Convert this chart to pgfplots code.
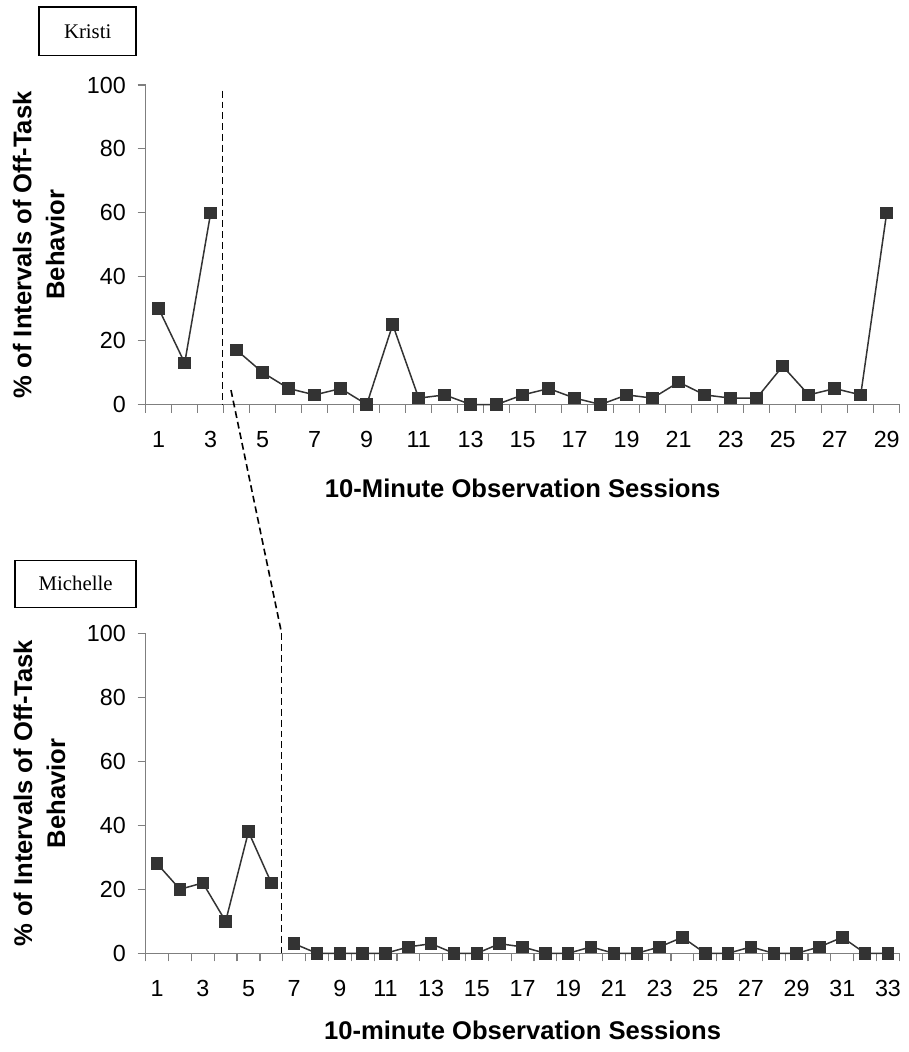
\documentclass[border=0pt]{standalone}
\usepackage{fontspec}
\setmainfont{Liberation Sans}
\newfontfamily\timesf{Liberation Serif}
\usepackage{pgfplots}
\pgfplotsset{compat=1.18}
\definecolor{c33}{HTML}{333333}
\definecolor{axgray}{HTML}{7F7F7F}

\tikzset{phase/.style={black, line width=0.8pt, dash pattern=on 3.4pt off 2pt}}
\pgfplotsset{
  bsb/.style={
    scale only axis, clip=false,
    axis x line=bottom, axis y line=left,
    axis line style={-, draw=axgray, line width=0.65pt},
    ymin=0, ymax=100, ytick={0,20,...,100},
    tick align=outside,
    major tick length=4pt, minor tick length=4pt,
    tick style={draw=axgray, line width=0.6pt},
    major x tick style={draw=none},
    ticklabel style={font=\fontsize{11.65}{13}\selectfont, text=black},
    /pgf/number format/assume math mode=true,
    xticklabel style={yshift=-6pt},
    yticklabel style={xshift=-2.4pt},
    xlabel style={font=\fontsize{12.8}{15}\selectfont\bfseries, anchor=center},
    ylabel style={font=\fontsize{12.8}{16.5}\selectfont\bfseries, align=center, anchor=center},
  },
  dat/.style={color=c33, line width=0.75pt, mark=square*, mark size=2.75pt, mark options={solid, fill=c33}},
}

\begin{document}
\begin{tikzpicture}
\useasboundingbox (0,0) rectangle (454pt,-526pt);

% ---------- Kristi ----------
\begin{axis}[bsb,
  at={(72.85pt,-202.25pt)}, anchor=south west,
  width=377pt, height=159.75pt,
  xmin=0.5, xmax=29.5,
  xtick={1,3,...,29},
  minor xtick={0.5,1.5,...,29.5},
  xlabel={10-Minute Observation Sessions},
  xlabel style={at={(axis description cs:0.5,-0.261)}},
  ylabel={\% of Intervals of Off-Task\\Behavior},
  ylabel style={at={(axis description cs:-0.142,0.5)}},
]
\addplot[dat] coordinates {(1,30) (2,13) (3,60)};
\addplot[dat] coordinates {(4,17) (5,10) (6,5) (7,3) (8,5) (9,0) (10,25) (11,2) (12,3) (13,0) (14,0) (15,3) (16,5) (17,2) (18,0) (19,3) (20,2) (21,7) (22,3) (23,2) (24,2) (25,12) (26,3) (27,5) (28,3) (29,60)};
\draw[phase] (axis cs:3.46,98.2) -- (axis cs:3.46,0);
\coordinate (ptop) at (axis cs:3.78,4.5);
\end{axis}

% ---------- Michelle ----------
\begin{axis}[bsb,
  at={(72.85pt,-476.65pt)}, anchor=south west,
  width=376.85pt, height=160pt,
  xmin=0.5, xmax=33.5,
  xtick={1,3,...,33},
  minor xtick={0.5,1.5,...,33.5},
  xlabel={10-minute Observation Sessions},
  xlabel style={at={(axis description cs:0.5,-0.24)}},
  ylabel={\% of Intervals of Off-Task\\Behavior},
  ylabel style={at={(axis description cs:-0.141,0.5)}},
]
\addplot[dat] coordinates {(1,28) (2,20) (3,22) (4,10) (5,38) (6,22)};
\addplot[dat] coordinates {(7,3) (8,0) (9,0) (10,0) (11,0) (12,2) (13,3) (14,0) (15,0) (16,3) (17,2) (18,0) (19,0) (20,2) (21,0) (22,0) (23,2) (24,5) (25,0) (26,0) (27,2) (28,0) (29,0) (30,2) (31,5) (32,0) (33,0)};
\draw[phase] (axis cs:6.45,100) -- (axis cs:6.45,0);
\coordinate (pbot) at (axis cs:6.45,100);
\end{axis}

\draw[phase] (ptop) -- (pbot);

% name boxes
\draw[black, line width=0.75pt] (19.6pt,-3.4pt) rectangle (68.1pt,-27.8pt);
\node[font=\timesf\fontsize{10.4}{12}\selectfont, inner sep=0pt] at (43.85pt,-15.8pt) {Kristi};
\draw[black, line width=0.75pt] (7.5pt,-280.3pt) rectangle (68.1pt,-303.8pt);
\node[font=\timesf\fontsize{10.4}{12}\selectfont, inner sep=0pt] at (37.8pt,-291.8pt) {Michelle};
\end{tikzpicture}
\end{document}
